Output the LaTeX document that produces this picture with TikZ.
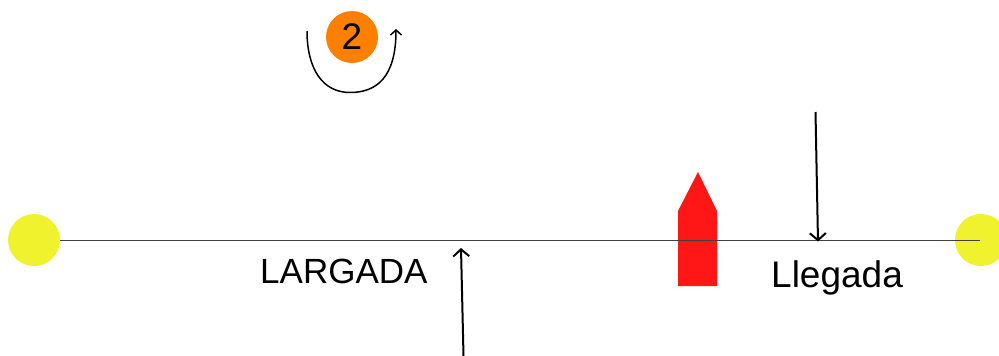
\documentclass[tikz,border=0pt]{standalone}
\usepackage{fontspec}
\setmainfont{Liberation Sans}
\usetikzlibrary{arrows.meta}
\definecolor{sunny}{HTML}{F0F22E}
\definecolor{badge}{HTML}{FF7F00}
\definecolor{hull}{HTML}{FF1616}
\tikzset{
  dot/.style={circle,draw=none,fill=sunny,minimum size=52pt,inner sep=0pt},
  badgedot/.style={circle,draw=none,fill=badge,minimum size=52pt,inner sep=0pt,font=\fontsize{37}{37}\selectfont,text=black},
  lbl/.style={inner sep=0pt,text=black},
  track/.style={draw=black!75,line width=1pt},
  pointer/.style={draw=black,line width=2pt,-{Straight Barb[length=7pt,width=16pt,line width=2pt]}},
  turn/.style={draw=black,line width=1.5pt,-{Straight Barb[length=5pt,width=11pt,line width=1.5pt]}},
}
\begin{document}
\begin{tikzpicture}[x=1pt,y=-1pt]
\useasboundingbox (0,0) rectangle (999,356);
\node[dot] (start) at (34,240) {};
\node[dot] (finish) at (981,240) {};
\fill[hull] (678,286) -- (717,286) -- (717,211) -- (698,172) -- (678,211) -- cycle;
\coordinate (trackend) at (980,240);
\draw[track] (start.east) -- (trackend);
\node[badgedot] (two) at (352,37) {2};
\coordinate (arcstart) at (307,31);
\coordinate (arcend) at (396,29);
\draw[turn] (arcstart) .. controls (307,68) and (322,92.5) .. (350,92.5) .. controls (376,92.5) and (396,78) .. (arcend);
\node[lbl,anchor=base west,font=\fontsize{35}{35}\selectfont] (largada) at (260,283) {LARGADA};
\node[lbl,anchor=base west,font=\fontsize{37}{37}\selectfont] (llegada) at (771,287) {Llegada};
\coordinate (a1from) at (815.5,112);
\coordinate (a1to) at (818,241.5);
\draw[pointer] (a1from) -- (a1to);
\coordinate (a2from) at (463.5,356);
\coordinate (a2to) at (461,248);
\draw[pointer] (a2from) -- (a2to);
\end{tikzpicture}
\end{document}
